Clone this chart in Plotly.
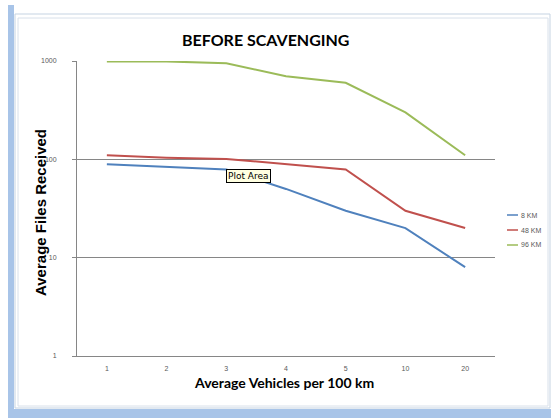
import plotly.graph_objects as go

categories = ["1", "2", "3", "4", "5", "10", "20"]
series_names = ["8 KM", "48 KM", "96 KM"]
km8 = [89, 84, 79, 50, 30, 20, 8]
km48 = [110, 104, 101, 90, 79, 30, 20]
km96 = [990, 990, 950, 700, 600, 300, 110]
colors = ["#4F81BD", "#C0504D", "#9BBB59"]
y_tickvals = [1, 10, 100, 1000]
y_ticktext = ["1", "10", "100", "1000"]

W, H = 551, 418
L, R, T, B = 77, 495, 61, 356  # plot area in pixels


def px(x):
    return (x - L) / (R - L)


def py(y):
    return (B - y) / (B - T)


fig = go.Figure()
for name, vals, col in zip(series_names, [km8, km48, km96], colors):
    fig.add_trace(go.Scatter(x=categories, y=vals, mode="lines", name=name,
                             line=dict(color=col, width=2), showlegend=False))

shapes = []
frame_blue = "#A8C4E8"
# blue window strips
shapes.append(dict(type="rect", xref="paper", yref="paper", x0=px(8), x1=px(14), y0=py(418), y1=py(5),
                   fillcolor=frame_blue, line=dict(width=0), layer="below"))
shapes.append(dict(type="rect", xref="paper", yref="paper", x0=px(8), x1=px(551), y0=py(418), y1=py(409),
                   fillcolor=frame_blue, line=dict(width=0), layer="below"))
# chart frame borders
shapes.append(dict(type="rect", xref="paper", yref="paper", x0=px(15), x1=px(550), y0=py(408), y1=py(14),
                   fillcolor="rgba(0,0,0,0)", line=dict(color="#C5D3E2", width=1), layer="below"))
shapes.append(dict(type="rect", xref="paper", yref="paper", x0=px(18), x1=px(548), y0=py(406), y1=py(18),
                   fillcolor="rgba(0,0,0,0)", line=dict(color="#D8E0EA", width=1), layer="below"))

annotations = []
# manual legend
leg_rows = [215, 230, 245]
for name, col, yy in zip(series_names, colors, leg_rows):
    shapes.append(dict(type="line", xref="paper", yref="paper", x0=px(507), x1=px(518), y0=py(yy), y1=py(yy),
                       line=dict(color=col, width=1.5)))
    annotations.append(dict(xref="paper", yref="paper", x=px(519), y=py(yy), text=name, showarrow=False,
                            xanchor="left", yanchor="middle",
                            font=dict(family="Liberation Sans", size=7, color="#595959")))

# title and axis titles
annotations.append(dict(xref="paper", yref="paper", x=px(266), y=py(39), text="<b>BEFORE SCAVENGING</b>",
                        showarrow=False, xanchor="center", yanchor="middle",
                        font=dict(family="Lato", size=16, color="#000000")))
annotations.append(dict(xref="paper", yref="paper", x=px(284), y=py(382), text="<b>Average Vehicles per 100 km</b>",
                        showarrow=False, xanchor="center", yanchor="middle",
                        font=dict(family="Lato", size=14, color="#000000")))
annotations.append(dict(xref="paper", yref="paper", x=px(40), y=py(213), text="<b>Average Files Received</b>",
                        showarrow=False, xanchor="center", yanchor="middle", textangle=-90,
                        font=dict(family="Liberation Sans", size=15, color="#000000")))
# Excel tooltip
annotations.append(dict(xref="paper", yref="paper", x=px(248), y=py(176), text="Plot Area",
                        showarrow=False, xanchor="center", yanchor="middle",
                        bgcolor="#FFFFE1", bordercolor="#000000", borderwidth=1, borderpad=1,
                        font=dict(family="DejaVu Sans", size=9, color="#000000")))

fig.update_layout(
    width=W, height=H,
    margin=dict(l=L, r=W - R, t=T, b=H - B, pad=0),
    paper_bgcolor="white", plot_bgcolor="white",
    shapes=shapes, annotations=annotations,
    showlegend=False,
    xaxis=dict(type="category", range=[-0.5, 6.5], showgrid=False, showline=True,
               linecolor="#868686", linewidth=1, ticks="", zeroline=False,
               tickfont=dict(family="Liberation Sans", size=7, color="#595959"),
               ticklabelstandoff=6),
    yaxis=dict(type="log", range=[0, 3], tickvals=y_tickvals, ticktext=y_ticktext,
               showgrid=True, gridcolor="#868686", gridwidth=1, showline=True,
               linecolor="#868686", linewidth=1, ticks="outside", ticklen=4, tickcolor="#868686",
               zeroline=False, tickfont=dict(family="Liberation Sans", size=7, color="#595959"),
               ticklabelstandoff=14),
)

fig.write_html("out.html", config={"displayModeBar": False},
               post_script="document.body.style.margin='0';")
